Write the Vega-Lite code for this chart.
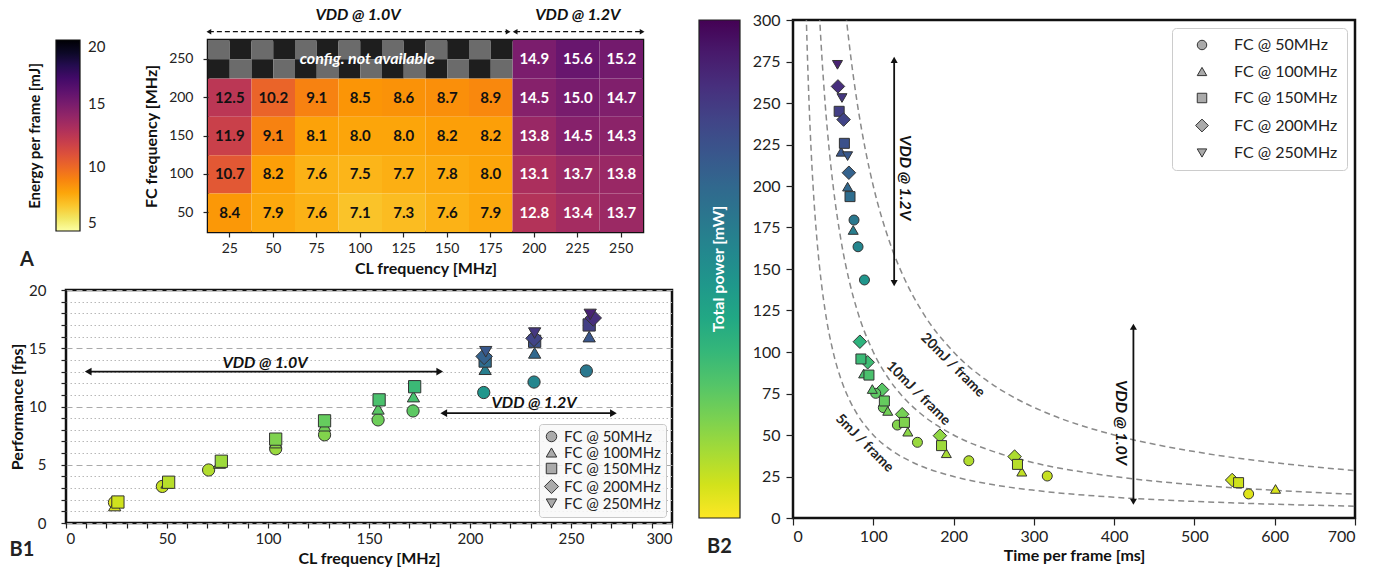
{
  "$schema": "https://vega.github.io/schema/vega-lite/v6.json",
  "padding": {"left": 8, "top": 7, "right": 5, "bottom": 0},
  "background": "white",
  "config": {
    "font": "Lato",
    "view": {"stroke": "#111", "strokeWidth": 2.5},
    "axis": {"labelColor": "#222", "titleColor": "#111", "tickColor": "#222", "domain": false, "grid": false, "labelFontSize": 15, "titleFontSize": 16, "titleFontWeight": "bold", "tickWidth": 1.2, "labelOverlap": false},
    "legend": {"labelColor": "#222", "titleColor": "#111", "labelFontSize": 15, "titleFontSize": 15, "titleFontWeight": "bold"},
    "title": {"font": "Lato"}
  },
  "datasets": {
    "heat": [
      {"cl": 25, "fc": 200, "e": 12.5}, {"cl": 50, "fc": 200, "e": 10.2}, {"cl": 75, "fc": 200, "e": 9.1}, {"cl": 100, "fc": 200, "e": 8.5}, {"cl": 125, "fc": 200, "e": 8.6}, {"cl": 150, "fc": 200, "e": 8.7}, {"cl": 175, "fc": 200, "e": 8.9}, {"cl": 200, "fc": 200, "e": 14.5}, {"cl": 225, "fc": 200, "e": 15.0}, {"cl": 250, "fc": 200, "e": 14.7},
      {"cl": 25, "fc": 150, "e": 11.9}, {"cl": 50, "fc": 150, "e": 9.1}, {"cl": 75, "fc": 150, "e": 8.1}, {"cl": 100, "fc": 150, "e": 8.0}, {"cl": 125, "fc": 150, "e": 8.0}, {"cl": 150, "fc": 150, "e": 8.2}, {"cl": 175, "fc": 150, "e": 8.2}, {"cl": 200, "fc": 150, "e": 13.8}, {"cl": 225, "fc": 150, "e": 14.5}, {"cl": 250, "fc": 150, "e": 14.3},
      {"cl": 25, "fc": 100, "e": 10.7}, {"cl": 50, "fc": 100, "e": 8.2}, {"cl": 75, "fc": 100, "e": 7.6}, {"cl": 100, "fc": 100, "e": 7.5}, {"cl": 125, "fc": 100, "e": 7.7}, {"cl": 150, "fc": 100, "e": 7.8}, {"cl": 175, "fc": 100, "e": 8.0}, {"cl": 200, "fc": 100, "e": 13.1}, {"cl": 225, "fc": 100, "e": 13.7}, {"cl": 250, "fc": 100, "e": 13.8},
      {"cl": 25, "fc": 50, "e": 8.4}, {"cl": 50, "fc": 50, "e": 7.9}, {"cl": 75, "fc": 50, "e": 7.6}, {"cl": 100, "fc": 50, "e": 7.1}, {"cl": 125, "fc": 50, "e": 7.3}, {"cl": 150, "fc": 50, "e": 7.6}, {"cl": 175, "fc": 50, "e": 7.9}, {"cl": 200, "fc": 50, "e": 12.8}, {"cl": 225, "fc": 50, "e": 13.4}, {"cl": 250, "fc": 50, "e": 13.7},
      {"cl": 200, "fc": 250, "e": 14.9}, {"cl": 225, "fc": 250, "e": 15.6}, {"cl": 250, "fc": 250, "e": 15.2}
    ],
    "na": [
      {"cl": 25, "fc": 250, "sx": 0, "sy": 0}, {"cl": 25, "fc": 250, "sx": 1, "sy": 0}, {"cl": 25, "fc": 250, "sx": 0, "sy": 1}, {"cl": 25, "fc": 250, "sx": 1, "sy": 1},
      {"cl": 50, "fc": 250, "sx": 0, "sy": 0}, {"cl": 50, "fc": 250, "sx": 1, "sy": 0}, {"cl": 50, "fc": 250, "sx": 0, "sy": 1}, {"cl": 50, "fc": 250, "sx": 1, "sy": 1},
      {"cl": 75, "fc": 250, "sx": 0, "sy": 0}, {"cl": 75, "fc": 250, "sx": 1, "sy": 0}, {"cl": 75, "fc": 250, "sx": 0, "sy": 1}, {"cl": 75, "fc": 250, "sx": 1, "sy": 1},
      {"cl": 100, "fc": 250, "sx": 0, "sy": 0}, {"cl": 100, "fc": 250, "sx": 1, "sy": 0}, {"cl": 100, "fc": 250, "sx": 0, "sy": 1}, {"cl": 100, "fc": 250, "sx": 1, "sy": 1},
      {"cl": 125, "fc": 250, "sx": 0, "sy": 0}, {"cl": 125, "fc": 250, "sx": 1, "sy": 0}, {"cl": 125, "fc": 250, "sx": 0, "sy": 1}, {"cl": 125, "fc": 250, "sx": 1, "sy": 1},
      {"cl": 150, "fc": 250, "sx": 0, "sy": 0}, {"cl": 150, "fc": 250, "sx": 1, "sy": 0}, {"cl": 150, "fc": 250, "sx": 0, "sy": 1}, {"cl": 150, "fc": 250, "sx": 1, "sy": 1},
      {"cl": 175, "fc": 250, "sx": 0, "sy": 0}, {"cl": 175, "fc": 250, "sx": 1, "sy": 0}, {"cl": 175, "fc": 250, "sx": 0, "sy": 1}, {"cl": 175, "fc": 250, "sx": 1, "sy": 1}
    ],
    "aarrows": [
      {"lab": "VDD @ 1.0V", "x1": 13, "x2": 185, "xt": 98.7},
      {"lab": "VDD @ 1.2V", "x1": 189, "x2": 262, "xt": 225}
    ],
    "b1arrows": [
      {"lab": "VDD @ 1.0V", "x1": 11, "x2": 185, "y": 13, "xt": 98.5, "yt": 13.75},
      {"lab": "VDD @ 1.2V", "x1": 187, "x2": 271, "y": 9.43, "xt": 231.7, "yt": 10.28}
    ],
    "b2arrows": [
      {"lab": "VDD @ 1.2V", "t": 126, "p1": 141.5, "p2": 276, "tt": 140, "pt": 205},
      {"lab": "VDD @ 1.0V", "t": 424, "p1": 9.8, "p2": 115.2, "tt": 409, "pt": 57.5}
    ],
    "curvelabels": [
      {"lab": "20mJ / frame", "t": 199, "p": 92},
      {"lab": "10mJ / frame", "t": 156, "p": 75},
      {"lab": "5mJ / frame", "t": 89, "p": 45}
    ],
    "curves": [
      {"e": "5", "t": 15, "p": 333.3}, {"e": "5", "t": 16.7, "p": 299.4}, {"e": "5", "t": 18, "p": 277.8}, {"e": "5", "t": 20, "p": 250}, {"e": "5", "t": 22.5, "p": 222.2}, {"e": "5", "t": 25, "p": 200}, {"e": "5", "t": 30, "p": 166.7}, {"e": "5", "t": 35, "p": 142.9}, {"e": "5", "t": 40, "p": 125}, {"e": "5", "t": 50, "p": 100}, {"e": "5", "t": 60, "p": 83.3}, {"e": "5", "t": 70, "p": 71.4}, {"e": "5", "t": 80, "p": 62.5}, {"e": "5", "t": 100, "p": 50}, {"e": "5", "t": 125, "p": 40}, {"e": "5", "t": 150, "p": 33.3}, {"e": "5", "t": 200, "p": 25}, {"e": "5", "t": 250, "p": 20}, {"e": "5", "t": 300, "p": 16.7}, {"e": "5", "t": 400, "p": 12.5}, {"e": "5", "t": 500, "p": 10}, {"e": "5", "t": 600, "p": 8.3}, {"e": "5", "t": 700, "p": 7.1},
      {"e": "10", "t": 30, "p": 333.3}, {"e": "10", "t": 33.3, "p": 300.3}, {"e": "10", "t": 36, "p": 277.8}, {"e": "10", "t": 40, "p": 250}, {"e": "10", "t": 45, "p": 222.2}, {"e": "10", "t": 50, "p": 200}, {"e": "10", "t": 60, "p": 166.7}, {"e": "10", "t": 70, "p": 142.9}, {"e": "10", "t": 80, "p": 125}, {"e": "10", "t": 100, "p": 100}, {"e": "10", "t": 120, "p": 83.3}, {"e": "10", "t": 140, "p": 71.4}, {"e": "10", "t": 160, "p": 62.5}, {"e": "10", "t": 200, "p": 50}, {"e": "10", "t": 250, "p": 40}, {"e": "10", "t": 300, "p": 33.3}, {"e": "10", "t": 400, "p": 25}, {"e": "10", "t": 500, "p": 20}, {"e": "10", "t": 600, "p": 16.7}, {"e": "10", "t": 700, "p": 14.3},
      {"e": "20", "t": 60, "p": 333.3}, {"e": "20", "t": 66.7, "p": 299.9}, {"e": "20", "t": 72, "p": 277.8}, {"e": "20", "t": 80, "p": 250}, {"e": "20", "t": 90, "p": 222.2}, {"e": "20", "t": 100, "p": 200}, {"e": "20", "t": 120, "p": 166.7}, {"e": "20", "t": 140, "p": 142.9}, {"e": "20", "t": 160, "p": 125}, {"e": "20", "t": 200, "p": 100}, {"e": "20", "t": 240, "p": 83.3}, {"e": "20", "t": 280, "p": 71.4}, {"e": "20", "t": 320, "p": 62.5}, {"e": "20", "t": 400, "p": 50}, {"e": "20", "t": 500, "p": 40}, {"e": "20", "t": 600, "p": 33.3}, {"e": "20", "t": 700, "p": 28.6}
    ],
    "perf": [
      {"fc": "FC @ 200MHz", "cl": 25.7, "fps": 1.8, "t": 547, "p": 22.9},
      {"fc": "FC @ 200MHz", "cl": 50.8, "fps": 3.5, "t": 276, "p": 37},
      {"fc": "FC @ 200MHz", "cl": 76.9, "fps": 5.3, "t": 183, "p": 49.6},
      {"fc": "FC @ 200MHz", "cl": 103.8, "fps": 7.2, "t": 136, "p": 62.5},
      {"fc": "FC @ 200MHz", "cl": 128, "fps": 8.77, "t": 111, "p": 77.3},
      {"fc": "FC @ 200MHz", "cl": 155, "fps": 10.57, "t": 93, "p": 93.8},
      {"fc": "FC @ 200MHz", "cl": 172.6, "fps": 11.7, "t": 83.3, "p": 106.2},
      {"fc": "FC @ 50MHz", "cl": 24, "fps": 1.76, "t": 567.5, "p": 14.5},
      {"fc": "FC @ 50MHz", "cl": 47.7, "fps": 3.14, "t": 316.7, "p": 25.3},
      {"fc": "FC @ 50MHz", "cl": 70.6, "fps": 4.55, "t": 219, "p": 34.5},
      {"fc": "FC @ 50MHz", "cl": 103.8, "fps": 6.37, "t": 155, "p": 45.6},
      {"fc": "FC @ 50MHz", "cl": 128, "fps": 7.57, "t": 130, "p": 56},
      {"fc": "FC @ 50MHz", "cl": 154.5, "fps": 8.85, "t": 112.5, "p": 66.5},
      {"fc": "FC @ 50MHz", "cl": 171.8, "fps": 9.62, "t": 103, "p": 75.1},
      {"fc": "FC @ 100MHz", "cl": 24.1, "fps": 1.5, "t": 601, "p": 17.5},
      {"fc": "FC @ 100MHz", "cl": 50, "fps": 3.45, "t": 285, "p": 27.9},
      {"fc": "FC @ 100MHz", "cl": 76, "fps": 5.15, "t": 191, "p": 39},
      {"fc": "FC @ 100MHz", "cl": 103.8, "fps": 6.9, "t": 143, "p": 52},
      {"fc": "FC @ 100MHz", "cl": 128, "fps": 8.35, "t": 118, "p": 64.5},
      {"fc": "FC @ 100MHz", "cl": 154.5, "fps": 9.8, "t": 98.8, "p": 77.7},
      {"fc": "FC @ 100MHz", "cl": 172, "fps": 10.85, "t": 88, "p": 87},
      {"fc": "FC @ 150MHz", "cl": 25.7, "fps": 1.8, "t": 555, "p": 21.3},
      {"fc": "FC @ 150MHz", "cl": 50.8, "fps": 3.5, "t": 279.6, "p": 32.3},
      {"fc": "FC @ 150MHz", "cl": 76.9, "fps": 5.3, "t": 185, "p": 43.6},
      {"fc": "FC @ 150MHz", "cl": 103.8, "fps": 7.2, "t": 138.8, "p": 57.6},
      {"fc": "FC @ 150MHz", "cl": 128, "fps": 8.77, "t": 113.8, "p": 70.5},
      {"fc": "FC @ 150MHz", "cl": 155, "fps": 10.57, "t": 94.6, "p": 86.1},
      {"fc": "FC @ 150MHz", "cl": 172.6, "fps": 11.7, "t": 84.6, "p": 95.8},
      {"fc": "FC @ 50MHz", "cl": 206.8, "fps": 11.2, "t": 89, "p": 143.4},
      {"fc": "FC @ 50MHz", "cl": 231.7, "fps": 12.1, "t": 81, "p": 163.4},
      {"fc": "FC @ 50MHz", "cl": 257.6, "fps": 13.05, "t": 76, "p": 179.5},
      {"fc": "FC @ 100MHz", "cl": 207.5, "fps": 13.2, "t": 75, "p": 173.5},
      {"fc": "FC @ 100MHz", "cl": 232, "fps": 14.6, "t": 68, "p": 199.6},
      {"fc": "FC @ 100MHz", "cl": 259, "fps": 16.0, "t": 60, "p": 220.6},
      {"fc": "FC @ 150MHz", "cl": 207.5, "fps": 13.9, "t": 71, "p": 193.6},
      {"fc": "FC @ 150MHz", "cl": 232, "fps": 15.6, "t": 64, "p": 225.7},
      {"fc": "FC @ 150MHz", "cl": 259, "fps": 17.0, "t": 57.5, "p": 245},
      {"fc": "FC @ 200MHz", "cl": 207, "fps": 14.3, "t": 69.6, "p": 208},
      {"fc": "FC @ 200MHz", "cl": 231.7, "fps": 15.85, "t": 63, "p": 240},
      {"fc": "FC @ 200MHz", "cl": 261, "fps": 17.6, "t": 56, "p": 260},
      {"fc": "FC @ 250MHz", "cl": 207.8, "fps": 14.7, "t": 68, "p": 218},
      {"fc": "FC @ 250MHz", "cl": 232, "fps": 16.3, "t": 61, "p": 253},
      {"fc": "FC @ 250MHz", "cl": 259.5, "fps": 17.9, "t": 55.4, "p": 273}
    ]
  },
  "resolve": {"scale": {"color": "independent", "shape": "independent"}, "legend": {"color": "independent", "shape": "independent"}},
  "spacing": 31,
  "hconcat": [
    {
      "spacing": 3,
      "resolve": {"scale": {"color": "independent", "shape": "independent"}, "legend": {"color": "independent", "shape": "independent"}},
      "vconcat": [
        {
          "bounds": "flush",
          "spacing": 141,
          "resolve": {"scale": {"color": "independent"}, "legend": {"color": "independent"}},
          "hconcat": [
            {
              "width": 1, "height": 1,
              "view": {"stroke": null},
              "data": {"values": [{}]},
              "mark": {"type": "point", "opacity": 0}
            },
            {
              "spacing": 3,
              "resolve": {"scale": {"color": "independent"}, "legend": {"color": "independent"}},
              "vconcat": [
                {
                  "width": 435, "height": 15,
                  "view": {"stroke": null},
                  "data": {"name": "aarrows"},
                  "layer": [
                    {"mark": {"type": "rule", "strokeDash": [5, 3], "strokeWidth": 1.3, "color": "#111"},
                     "encoding": {"x": {"field": "x1", "type": "quantitative", "scale": {"domain": [12.5, 262.5], "nice": false, "zero": false}, "axis": null}, "x2": {"field": "x2"}, "y": {"datum": 0.22, "type": "quantitative", "scale": {"domain": [0, 1], "nice": false}, "axis": null}}},
                    {"mark": {"type": "point", "shape": "triangle-left", "filled": true, "size": 30, "color": "#111", "opacity": 1},
                     "encoding": {"x": {"field": "x1", "type": "quantitative", "axis": null}, "y": {"datum": 0.22, "type": "quantitative", "axis": null}}},
                    {"mark": {"type": "point", "shape": "triangle-right", "filled": true, "size": 30, "color": "#111", "opacity": 1},
                     "encoding": {"x": {"field": "x2", "type": "quantitative", "axis": null}, "y": {"datum": 0.22, "type": "quantitative", "axis": null}}},
                    {"mark": {"type": "text", "fontSize": 16, "fontWeight": "bold", "fontStyle": "italic", "color": "#111"},
                     "encoding": {"x": {"field": "xt", "type": "quantitative", "axis": null}, "y": {"datum": 1.33, "type": "quantitative", "axis": null}, "text": {"field": "lab"}}}
                  ]
                },
                {
                  "width": 435, "height": 192,
                  "title": {"text": "A", "orient": "bottom", "anchor": "start", "frame": "bounds", "offset": -26, "dx": -8, "fontSize": 20, "fontWeight": "bold", "color": "#222"},
                  "layer": [
                    {"data": {"name": "heat"}, "mark": {"type": "rect"},
                     "encoding": {
                       "x": {"field": "cl", "type": "ordinal", "scale": {"domain": [25, 50, 75, 100, 125, 150, 175, 200, 225, 250], "paddingInner": 0, "paddingOuter": 0}, "axis": {"title": "CL frequency [MHz]", "labelAngle": 0, "tickSize": 5, "labelPadding": 4, "labelFontSize": 14, "titleFontSize": 16, "titlePadding": 5}},
                       "y": {"field": "fc", "type": "ordinal", "scale": {"domain": [250, 200, 150, 100, 50], "paddingInner": 0, "paddingOuter": 0}, "axis": {"title": "FC frequency [MHz]", "tickSize": 5, "labelPadding": 10, "labelFontSize": 14, "titleFontSize": 16, "titlePadding": 9}},
                       "color": {"field": "e", "type": "quantitative", "scale": {"scheme": "inferno", "reverse": true, "domain": [5, 20]},
                         "legend": {"orient": "left", "direction": "vertical", "title": "Energy per frame [mJ]", "titleOrient": "left", "titleAnchor": "middle", "titlePadding": 12, "titleFontSize": 15, "gradientLength": 191, "gradientThickness": 24, "values": [5, 10, 15, 20], "labelFontSize": 15, "labelOffset": 8, "labelBaseline": "middle", "offset": 37, "gradientStrokeColor": "#111", "gradientStrokeWidth": 1.2, "padding": 0}}
                     }},
                    {"data": {"name": "na"}, "mark": {"type": "rect"},
                     "encoding": {
                       "x": {"field": "cl", "type": "ordinal"},
                       "y": {"field": "fc", "type": "ordinal"},
                       "xOffset": {"field": "sx", "type": "ordinal"},
                       "yOffset": {"field": "sy", "type": "ordinal"},
                       "color": {"condition": {"test": "datum.sx != datum.sy", "value": "#1e1e1e"}, "value": "#6b6b6b"}
                     }},
                    {"data": {"name": "heat"}, "mark": {"type": "text", "fontWeight": "bold", "fontSize": 15},
                     "encoding": {
                       "x": {"field": "cl", "type": "ordinal"},
                       "y": {"field": "fc", "type": "ordinal"},
                       "text": {"field": "e", "type": "quantitative", "format": ".1f"},
                       "color": {"condition": {"test": "datum.e > 12.6", "value": "white"}, "value": "#111"}
                     }},
                    {"data": {"values": [{"msg": "config. not available"}]}, "mark": {"type": "text", "color": "white", "fontWeight": "bold", "fontStyle": "italic", "fontSize": 16, "dx": 7},
                     "encoding": {
                       "x": {"datum": 100, "type": "ordinal"},
                       "y": {"datum": 250, "type": "ordinal"},
                       "text": {"field": "msg"}
                     }}
                  ]
                }
              ]
            }
          ]
        },
        {
          "width": 606, "height": 233,
          "title": {"text": "B1", "orient": "bottom", "anchor": "start", "frame": "bounds", "offset": -26, "fontSize": 20, "fontWeight": "bold", "color": "#222"},
          "layer": [
            {"data": {"name": "b1arrows"}, "mark": {"type": "rule", "strokeWidth": 1.8, "color": "#111"},
             "encoding": {
               "x": {"field": "x1", "type": "quantitative", "scale": {"domain": [0, 300], "nice": false, "zero": false},
                 "axis": {"title": "CL frequency [MHz]", "values": [0,10,20,30,40,50,60,70,80,90,100,110,120,130,140,150,160,170,180,190,200,210,220,230,240,250,260,270,280,290,300], "tickCount": 100, "format": "d", "labelExpr": "datum.value % 50 === 0 ? datum.label : ''", "tickSize": 5, "labelPadding": 3, "labelFontSize": 15, "titleFontSize": 16, "titlePadding": 4, "labelOverlap": false}},
               "x2": {"field": "x2"},
               "y": {"field": "y", "type": "quantitative", "scale": {"domain": [0, 20], "nice": false},
                 "axis": {"title": "Performance [fps]", "values": [0,1,2,3,4,5,6,7,8,9,10,11,12,13,14,15,16,17,18,19,20], "tickCount": 100, "format": "d", "labelExpr": "datum.value % 5 === 0 ? datum.label : ''", "tickSize": 5, "grid": true, "gridDash": {"condition": {"test": "datum.value % 5 === 0", "value": [6, 4]}, "value": [1.5, 2.5]}, "gridColor": {"condition": {"test": "datum.value % 5 === 0", "value": "#aaaaaa"}, "value": "#b8b8b8"}, "labelPadding": 15, "labelFontSize": 15, "titleFontSize": 16, "titlePadding": 3, "labelOverlap": false}}
             }},
            {"data": {"name": "b1arrows"}, "mark": {"type": "point", "shape": "triangle-left", "filled": true, "size": 60, "color": "#111", "opacity": 1},
             "encoding": {"x": {"field": "x1", "type": "quantitative"}, "y": {"field": "y", "type": "quantitative"}}},
            {"data": {"name": "b1arrows"}, "mark": {"type": "point", "shape": "triangle-right", "filled": true, "size": 60, "color": "#111", "opacity": 1},
             "encoding": {"x": {"field": "x2", "type": "quantitative"}, "y": {"field": "y", "type": "quantitative"}}},
            {"data": {"name": "b1arrows"}, "mark": {"type": "text", "fontSize": 16, "fontWeight": "bold", "fontStyle": "italic", "color": "#111"},
             "encoding": {"x": {"field": "xt", "type": "quantitative"}, "y": {"field": "yt", "type": "quantitative"}, "text": {"field": "lab"}}},
            {"data": {"name": "perf"},
             "transform": [{"filter": "datum.fc !== 'FC @ 200MHz' || datum.cl > 190"}],
             "mark": {"type": "point", "filled": true, "size": 150, "stroke": "#333", "strokeWidth": 1, "opacity": 1},
             "encoding": {
               "x": {"field": "cl", "type": "quantitative"},
               "y": {"field": "fps", "type": "quantitative"},
               "shape": {"field": "fc", "type": "nominal", "scale": {"domain": ["FC @ 50MHz", "FC @ 100MHz", "FC @ 150MHz", "FC @ 200MHz", "FC @ 250MHz"], "range": ["circle", "triangle-up", "square", "M-1.35,0L0,-1.35L1.35,0L0,1.35Z", "triangle-down"]},
                 "legend": {"orient": "bottom-right", "offset": 6, "title": null, "padding": 5, "fillColor": "rgba(248,248,248,0.85)", "strokeColor": "#c8c8c8", "cornerRadius": 3, "labelFontSize": 15, "symbolSize": 110, "symbolFillColor": "#aaaaaa", "symbolStrokeColor": "#333333", "symbolStrokeWidth": 1, "rowPadding": 0, "labelOffset": 5}},
               "color": {"field": "p", "type": "quantitative", "scale": {"scheme": "viridis", "reverse": true, "domain": [0, 300]}, "legend": null}
             }}
          ]
        }
      ]
    },
    {
      "width": 562, "height": 498,
      "title": {"text": "B2", "orient": "bottom", "anchor": "start", "frame": "bounds", "offset": -26, "dx": -4, "fontSize": 20, "fontWeight": "bold", "color": "#222"},
      "layer": [
        {"data": {"name": "curves"}, "mark": {"type": "line", "strokeDash": [6, 4], "color": "#8a8a8a", "strokeWidth": 1.5, "clip": true, "interpolate": "monotone"},
         "encoding": {
           "x": {"field": "t", "type": "quantitative", "scale": {"domain": [0, 700], "nice": false, "zero": false}, "axis": {"title": "Time per frame [ms]", "values": [0, 100, 200, 300, 400, 500, 600, 700], "tickCount": 100, "format": "d", "tickSize": 7, "labelPadding": 3, "labelFontSize": 16, "titleFontSize": 16, "titlePadding": 3}},
           "y": {"field": "p", "type": "quantitative", "scale": {"domain": [0, 300], "nice": false}, "axis": {"title": null, "values": [0, 25, 50, 75, 100, 125, 150, 175, 200, 225, 250, 275, 300], "tickCount": 100, "format": "d", "tickSize": 7, "labelPadding": 6, "labelFontSize": 16}},
           "detail": {"field": "e"}
         }},
        {"data": {"name": "curvelabels"}, "mark": {"type": "text", "angle": 45, "fontWeight": "bold", "fontSize": 14, "color": "#222"},
         "encoding": {"x": {"field": "t", "type": "quantitative"}, "y": {"field": "p", "type": "quantitative"}, "text": {"field": "lab"}}},
        {"data": {"name": "b2arrows"}, "mark": {"type": "rule", "strokeWidth": 1.8, "color": "#111"},
         "encoding": {"x": {"field": "t", "type": "quantitative"}, "y": {"field": "p1", "type": "quantitative"}, "y2": {"field": "p2"}}},
        {"data": {"name": "b2arrows"}, "mark": {"type": "point", "shape": "triangle-up", "filled": true, "size": 50, "color": "#111", "opacity": 1},
         "encoding": {"x": {"field": "t", "type": "quantitative"}, "y": {"field": "p2", "type": "quantitative"}}},
        {"data": {"name": "b2arrows"}, "mark": {"type": "point", "shape": "triangle-down", "filled": true, "size": 50, "color": "#111", "opacity": 1},
         "encoding": {"x": {"field": "t", "type": "quantitative"}, "y": {"field": "p1", "type": "quantitative"}}},
        {"data": {"name": "b2arrows"}, "mark": {"type": "text", "angle": 90, "fontSize": 16, "fontWeight": "bold", "fontStyle": "italic", "color": "#111"},
         "encoding": {"x": {"field": "tt", "type": "quantitative"}, "y": {"field": "pt", "type": "quantitative"}, "text": {"field": "lab"}}},
        {"data": {"name": "perf"}, "mark": {"type": "point", "filled": true, "size": 100, "stroke": "#333", "strokeWidth": 1, "opacity": 1},
         "encoding": {
           "x": {"field": "t", "type": "quantitative"},
           "y": {"field": "p", "type": "quantitative"},
           "shape": {"field": "fc", "type": "nominal", "scale": {"domain": ["FC @ 50MHz", "FC @ 100MHz", "FC @ 150MHz", "FC @ 200MHz", "FC @ 250MHz"], "range": ["circle", "triangle-up", "square", "M-1.35,0L0,-1.35L1.35,0L0,1.35Z", "triangle-down"]},
             "legend": {"orient": "top-right", "offset": 8, "title": null, "padding": 9, "symbolOffset": 13, "labelOffset": 24, "rowPadding": 10.5, "labelFontSize": 16, "symbolSize": 90, "symbolFillColor": "#aaaaaa", "symbolStrokeColor": "#333333", "symbolStrokeWidth": 1, "fillColor": "white", "strokeColor": "#cccccc", "cornerRadius": 4}},
           "color": {"field": "p", "type": "quantitative", "scale": {"scheme": "viridis", "reverse": true, "domain": [0, 300]},
             "legend": {"orient": "left", "direction": "vertical", "title": "Total power [mW]", "titleOrient": "left", "titleAnchor": "middle", "titleColor": "white", "titleFontSize": 16, "titlePadding": -29, "gradientLength": 498, "gradientThickness": 41, "labelExpr": "''", "offset": 10, "gradientStrokeColor": "#222", "gradientStrokeWidth": 1.2, "padding": 0}}
         }}
      ]
    }
  ]
}
